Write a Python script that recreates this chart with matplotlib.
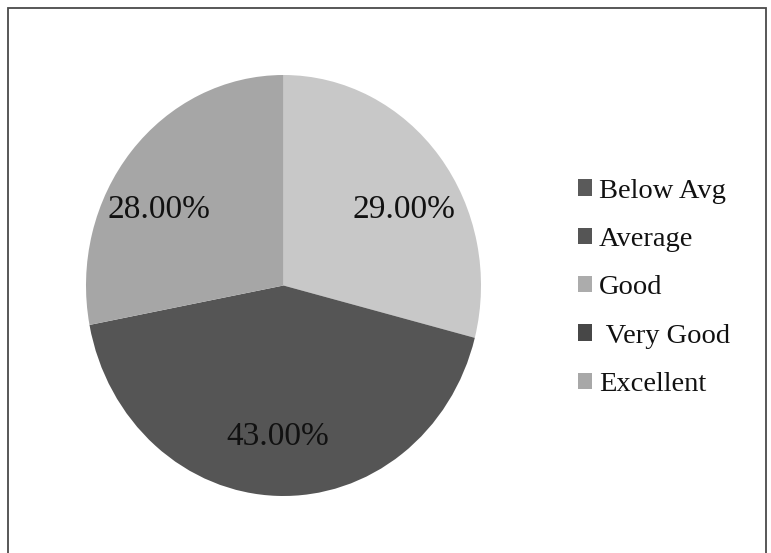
import matplotlib
matplotlib.use("Agg")
import matplotlib.pyplot as plt
from matplotlib.patches import Rectangle

categories = ["Below Avg", "Average", "Good", " Very Good", "Excellent"]
values = [0.0, 0.0, 29.0, 43.0, 28.0]
colors = ["#585858", "#545454", "#c8c8c8", "#555555", "#a6a6a6"]
legend_colors = ["#5a5a5a", "#555555", "#acacac", "#474747", "#a8a8a8"]

W, H = 771, 553
fig = plt.figure(figsize=(W / 100, H / 100), dpi=100)
fig.patch.set_facecolor("white")

# outer frame
fig.patches.append(Rectangle((8 / W, -0.05), (766 - 8) / W, 1.05 - 8 / H,
                             transform=fig.transFigure, fill=False,
                             edgecolor="#4a4a4a", linewidth=1.3))

ax = fig.add_axes([86 / W, (H - 496) / H, (481 - 86) / W, (496 - 75) / H])

def fmt(p):
    return "" if p < 0.5 else f"{p:.2f}%"

wedges, texts, autotexts = ax.pie(values, colors=colors, startangle=90,
                                  counterclock=False, autopct=fmt,
                                  pctdistance=0.72,
                                  wedgeprops=dict(linewidth=0),
                                  textprops=dict(family="Liberation Serif",
                                                 fontsize=24, color="#111111"))
ax.set_aspect("auto")
ax.set_xlim(-1, 1)
ax.set_ylim(-1, 1)
ax.axis("off")

# label layout (positions in axes data coords)
label_pos = {2: (0.61, 0.36), 3: (-0.03, -0.72), 4: (-0.63, 0.36)}
for i, t in enumerate(autotexts):
    if i in label_pos:
        t.set_position(label_pos[i])

handles = [Rectangle((0, 0), 1, 1, facecolor=c, edgecolor="none") for c in legend_colors]
leg = fig.legend(handles, categories, loc="upper left",
                 bbox_to_anchor=(552 / W, 1 - 153 / H),
                 frameon=False, handlelength=0.5, handleheight=0.5,
                 handletextpad=0.25, labelspacing=0.82,
                 prop=dict(family="Liberation Serif", size=20.5))
for t in leg.get_texts():
    t.set_color("#111111")

fig.savefig("out.png", dpi=100, facecolor="white")
